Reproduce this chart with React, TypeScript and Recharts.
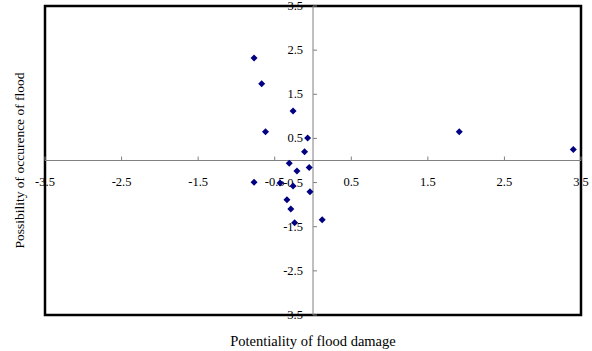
import { ScatterChart, Scatter, XAxis, YAxis, ReferenceLine, ReferenceArea, ReferenceDot } from 'recharts';

// flood damage potential (x) vs possibility of occurrence (y)
const damage = [-0.77, -0.67, -0.62, -0.26, -0.07, -0.11, -0.31, -0.21, -0.05, 1.91, 3.4, -0.77, -0.43, -0.26, -0.04, -0.34, -0.29, -0.24, 0.12];
const occurrence = [2.32, 1.74, 0.65, 1.12, 0.51, 0.2, -0.06, -0.24, -0.16, 0.65, 0.25, -0.49, -0.51, -0.58, -0.71, -0.89, -1.1, -1.41, -1.34];

const xTicks = [-3.5, -2.5, -1.5, -0.5, 0.5, 1.5, 2.5, 3.5];
const yTicks = [3.5, 2.5, 1.5, 0.5, -0.5, -1.5, -2.5, -3.5];

const points = damage.map((x, i) => ({ x, y: occurrence[i] }));

const font = '"Liberation Serif", "Times New Roman", serif';
const axisGrey = '#808080';

const Diamond = (props: any) => {
  const { cx, cy } = props;
  const r = 3.5;
  return <path d={`M${cx},${cy - r}L${cx + r},${cy}L${cx},${cy + r}L${cx - r},${cy}Z`} fill="#000080" />;
};

const XTick = (label: number) => (props: any) => {
  const { cx, cy } = props;
  return (
    <g>
      <line x1={cx} y1={cy} x2={cx} y2={cy - 4} stroke={axisGrey} />
      <text x={cx} y={cy + 25} textAnchor="middle" fontSize={12.5} fontFamily={font} fill="#000">
        {label}
      </text>
    </g>
  );
};

const YTick = (label: number) => (props: any) => {
  const { cx, cy } = props;
  return (
    <g>
      <line x1={cx} y1={cy} x2={cx + 4} y2={cy} stroke={axisGrey} />
      <text x={cx - 10} y={cy + 4} textAnchor="end" fontSize={12.5} fontFamily={font} fill="#000">
        {label}
      </text>
    </g>
  );
};

export default function App() {
  return (
    <div style={{ position: 'absolute', left: 0, top: 0, background: '#fff' }}>
      <ScatterChart width={592} height={351} margin={{ top: 6, right: 11, bottom: 0, left: 0 }}>
        <XAxis
          type="number"
          dataKey="x"
          domain={[-3.5, 3.5]}
          allowDataOverflow
          tick={false}
          tickLine={false}
          axisLine={false}
          height={36}
          label={{ value: 'Potentiality of flood damage', position: 'insideBottom', offset: 5, fontSize: 14.5, fontFamily: font, fill: '#000' }}
        />
        <YAxis
          type="number"
          dataKey="y"
          domain={[-3.5, 3.5]}
          allowDataOverflow
          tick={false}
          tickLine={false}
          axisLine={false}
          width={45}
          label={{
            value: 'Possibility of occurence of flood',
            angle: -90,
            position: 'insideLeft',
            offset: 19,
            fontSize: 13.5,
            fontFamily: font,
            fill: '#000',
            style: { textAnchor: 'middle' },
          }}
        />
        <ReferenceLine x={0} stroke={axisGrey} strokeWidth={1} />
        <ReferenceLine y={0} stroke={axisGrey} strokeWidth={1} />
        {xTicks.map((t) => (
          <ReferenceDot key={'x' + t} x={t} y={0} r={0} shape={XTick(t)} />
        ))}
        {yTicks.map((t) => (
          <ReferenceDot key={'y' + t} x={0} y={t} r={0} shape={YTick(t)} />
        ))}
        <ReferenceArea x1={-3.5} x2={3.5} y1={-3.5} y2={3.5} fill="none" fillOpacity={0} stroke="#000" strokeWidth={2.5} />
        <Scatter data={points} shape={Diamond} isAnimationActive={false} />
      </ScatterChart>
    </div>
  );
}
